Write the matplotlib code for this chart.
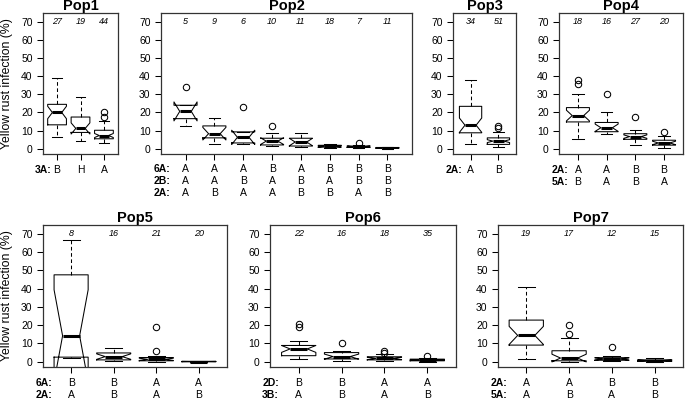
import numpy as np
import matplotlib
matplotlib.use("Agg")
import matplotlib.pyplot as plt

plt.rcParams['font.family'] = ['Liberation Sans', 'DejaVu Sans']

W, H = 685, 401

# ---------------- data ----------------
pop1_n   = [27, 19, 44]
pop1_lo  = [6.5, 4.5, 3.0]
pop1_q1  = [13.2, 9.0, 5.5]
pop1_med = [20.0, 11.2, 7.3]
pop1_q3  = [24.5, 17.5, 10.2]
pop1_hi  = [39.3, 28.8, 15.3]
pop1_out = [[], [], [20.5, 17.5]]
pop1_geno = [("3A:", ["B", "H", "A"])]

pop2_n   = [5, 9, 6, 10, 11, 18, 7, 11]
pop2_lo  = [12.4, 2.7, 2.4, 1.3, 0.9, 0.5, 0.5, 0.1]
pop2_q1  = [16.6, 6.0, 3.2, 2.1, 1.5, 0.9, 0.8, 0.3]
pop2_med = [20.6, 8.3, 6.3, 4.2, 3.7, 1.3, 1.1, 0.5]
pop2_q3  = [24.0, 12.6, 9.3, 5.8, 5.8, 1.9, 1.5, 0.7]
pop2_hi  = [24.0, 16.9, 9.3, 8.5, 8.5, 2.5, 1.8, 0.9]
pop2_out = [[34.0], [], [23.0], [12.6], [], [], [2.9], []]
pop2_geno = [("6A:", ["A", "A", "A", "B", "A", "B", "B", "B"]),
             ("2B:", ["A", "A", "B", "A", "B", "A", "B", "B"]),
             ("2A:", ["A", "B", "A", "A", "B", "B", "A", "B"])]

pop3_n   = [34, 51]
pop3_lo  = [2.4, 1.2]
pop3_q1  = [8.8, 2.4]
pop3_med = [13.0, 4.2]
pop3_q3  = [23.4, 6.0]
pop3_hi  = [38.0, 9.4]
pop3_out = [[], [12.6, 11.2]]
pop3_geno = [("2A:", ["A", "B"])]

pop4_n   = [18, 16, 27, 20]
pop4_lo  = [5.5, 8.3, 2.0, 0.5]
pop4_q1  = [14.8, 9.4, 5.2, 2.0]
pop4_med = [18.3, 11.6, 6.7, 3.2]
pop4_q3  = [22.7, 14.5, 8.3, 4.7]
pop4_hi  = [30.0, 20.0, 10.2, 7.0]
pop4_out = [[38.2, 36.0], [30.2], [17.3], [9.3]]
pop4_geno = [("2A:", ["A", "A", "B", "B"]),
             ("5A:", ["B", "A", "B", "A"])]

pop5_n   = [8, 16, 21, 20]
pop5_lo  = [2.0, 0.2, 0.0, 0.0]
pop5_q1  = [2.5, 1.0, 0.5, 0.0]
pop5_med = [14.2, 2.8, 1.3, 0.1]
pop5_q3  = [47.6, 4.8, 2.3, 0.2]
pop5_hi  = [66.5, 7.7, 3.0, 0.3]
pop5_out = [[], [], [19.0, 6.0], []]
pop5_geno = [("6A:", ["B", "B", "A", "A"]),
             ("2A:", ["A", "B", "A", "B"])]

pop6_n   = [22, 16, 18, 35]
pop6_lo  = [1.7, 0.3, 0.2, 0.0]
pop6_q1  = [3.3, 1.5, 1.0, 0.5]
pop6_med = [7.0, 2.8, 1.8, 0.9]
pop6_q3  = [8.9, 5.0, 2.7, 1.4]
pop6_hi  = [11.3, 5.8, 4.0, 2.3]
pop6_out = [[20.5, 19.0], [10.3], [6.0, 4.8], [3.4]]
pop6_geno = [("2D:", ["B", "B", "A", "A"]),
             ("3B:", ["A", "B", "A", "B"])]

pop7_n   = [19, 17, 12, 15]
pop7_lo  = [1.3, 0.0, 0.3, 0.1]
pop7_q1  = [9.1, 0.5, 0.8, 0.3]
pop7_med = [14.4, 2.0, 1.5, 0.6]
pop7_q3  = [22.8, 6.0, 2.2, 1.0]
pop7_hi  = [40.8, 13.2, 3.0, 1.8]
pop7_out = [[], [20.0, 15.4], [8.2], []]
pop7_geno = [("2A:", ["A", "A", "B", "B"]),
             ("5A:", ["A", "B", "A", "B"])]

yticks = [0, 10, 20, 30, 40, 50, 60, 70]
ylabel = "Yellow rust infection (%)"

# ---------------- drawing ----------------
fig = plt.figure(figsize=(W / 100, H / 100), dpi=100)
fig.patch.set_facecolor("white")

LW = 0.75


def panel(name, box, xpad, n, lo, q1, med, q3, hi, out, geno, geno_y, show_ylabel):
    left, right, top, bottom = box
    ax = fig.add_axes([left / W, 1 - bottom / H, (right - left) / W, (bottom - top) / H])
    stats = []
    for i in range(len(n)):
        iqr = q3[i] - q1[i]
        half = 1.58 * iqr / np.sqrt(n[i])
        stats.append(dict(med=med[i], q1=q1[i], q3=q3[i], whislo=lo[i], whishi=hi[i],
                          fliers=out[i], cilo=med[i] - half, cihi=med[i] + half))
    pos = list(range(1, len(n) + 1))
    ax.bxp(stats, positions=pos, widths=0.8, shownotches=True, showfliers=True,
           boxprops=dict(color="black", linewidth=LW),
           medianprops=dict(color="black", linewidth=2.2, solid_capstyle="butt"),
           whiskerprops=dict(color="black", linewidth=LW, linestyle=(0, (3.5, 2.5))),
           capprops=dict(color="black", linewidth=LW),
           flierprops=dict(marker="o", markersize=4.6, markerfacecolor="none",
                           markeredgecolor="black", markeredgewidth=LW, linestyle="none"))
    ax.set_ylim(-2.9, 74.9)
    ax.set_xlim(1 - xpad, len(n) + xpad)
    ax.set_yticks(yticks)
    ax.set_xticks(pos)
    ax.set_xticklabels([])
    ax.tick_params(axis="both", direction="out", length=4.5, width=LW, labelsize=7.5,
                   pad=3, colors="black")
    for s in ax.spines.values():
        s.set_linewidth(0.9)
        s.set_color("#333333")
    ax.set_title(name, fontsize=10.5, fontweight="bold", pad=1.5)
    for p, c in zip(pos, n):
        ax.text(p, 70, str(c), ha="center", va="center", fontsize=6.5, style="italic")
    for r, (lab, vals) in enumerate(geno):
        ypx = geno_y + r * 12.5
        fig.text((left + 9) / W, 1 - ypx / H, lab, ha="right", va="center",
                 fontsize=7.5, fontweight="bold")
        for p, v in zip(pos, vals):
            xf = fig.transFigure.inverted().transform(ax.transData.transform((p, 0)))[0]
            fig.text(xf, 1 - ypx / H, v, ha="center", va="center", fontsize=7.5)
    if show_ylabel:
        fig.text(7 / W, 1 - (top + bottom) / 2 / H, ylabel, rotation=90,
                 ha="center", va="center", fontsize=8.8)
    return ax


TOP = (13, 154)
BOT = (225, 367)

panel("Pop1", (43, 118) + TOP, 0.6, pop1_n, pop1_lo, pop1_q1, pop1_med, pop1_q3, pop1_hi,
      pop1_out, pop1_geno, 169.5, True)
panel("Pop2", (161, 412) + TOP, 0.85, pop2_n, pop2_lo, pop2_q1, pop2_med, pop2_q3, pop2_hi,
      pop2_out, pop2_geno, 168.5, False)
panel("Pop3", (453, 516) + TOP, 0.63, pop3_n, pop3_lo, pop3_q1, pop3_med, pop3_q3, pop3_hi,
      pop3_out, pop3_geno, 169.5, False)
panel("Pop4", (559, 683) + TOP, 0.66, pop4_n, pop4_lo, pop4_q1, pop4_med, pop4_q3, pop4_hi,
      pop4_out, pop4_geno, 169.5, False)
panel("Pop5", (43, 227) + BOT, 0.66, pop5_n, pop5_lo, pop5_q1, pop5_med, pop5_q3, pop5_hi,
      pop5_out, pop5_geno, 383, True)
panel("Pop6", (270, 456) + BOT, 0.67, pop6_n, pop6_lo, pop6_q1, pop6_med, pop6_q3, pop6_hi,
      pop6_out, pop6_geno, 383, False)
panel("Pop7", (498, 683) + BOT, 0.66, pop7_n, pop7_lo, pop7_q1, pop7_med, pop7_q3, pop7_hi,
      pop7_out, pop7_geno, 383, False)

fig.savefig("out.png", dpi=100, facecolor="white")
